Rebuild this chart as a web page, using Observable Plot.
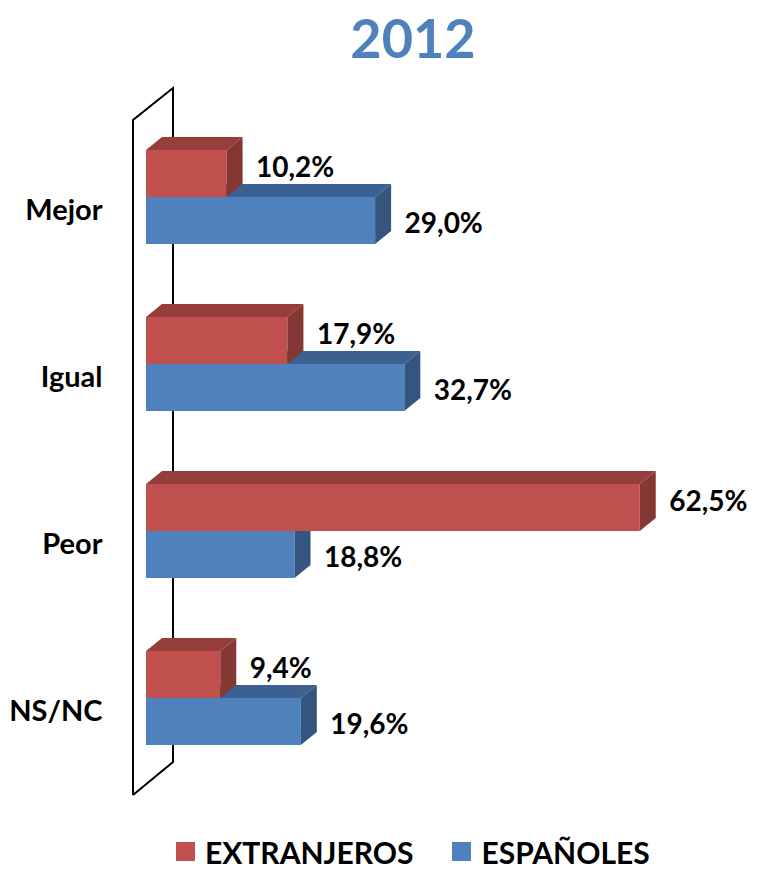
<!DOCTYPE html>
<html>
<head>
<meta charset="utf-8">
<script src="https://cdn.jsdelivr.net/npm/d3@7"></script>
<script src="https://cdn.jsdelivr.net/npm/@observablehq/plot@0.6"></script>
<style>
  html, body { margin: 0; padding: 0; background: #fff; }
  body { width: 767px; height: 873px; overflow: hidden; font-family: Lato, "Open Sans", sans-serif; }
  #title { height: 75px; line-height: 75px; font-size: 54px; font-weight: bold; color: #4f81bd; text-align: center; padding-left: 59px; box-sizing: border-box; }
  #chart svg { display: block; }
  #legend { height: 43px; display: flex; align-items: center; padding-left: 176px; font-size: 30px; font-weight: bold; color: #000; }
  .sw { width: 19px; height: 19px; display: inline-block; margin-right: 10px; }
  .item { display: flex; align-items: center; margin-right: 39px; }
</style>
</head>
<body>
<div id="title">2012</div>
<div id="chart"></div>
<div id="legend"></div>
<script>
const categories = ["Mejor", "Igual", "Peor", "NS/NC"];
const extranjeros = [10.2, 17.9, 62.5, 9.4];
const espanoles = [29.0, 32.7, 18.8, 19.6];
const seriesNames = ["EXTRANJEROS", "ESPAÑOLES"];
const seriesColors = ["#c0504d", "#4f81bd"];
const topColors = ["#963e3b", "#3b6190"];
const sideColors = ["#853734", "#34557e"];

const data = categories.flatMap((c, i) => [
  {cat: c, series: "ESPAÑOLES", value: espanoles[i]},
  {cat: c, series: "EXTRANJEROS", value: extranjeros[i]}
]);
const fmt = v => v.toFixed(1).replace(".", ",") + "%";

const W = 767, H = 755, mT = 73, mB = 83, mL = 146;
const plot = Plot.plot({
  width: W, height: H,
  marginLeft: mL, marginRight: 68, marginTop: mT, marginBottom: mB,
  x: {domain: [0, 70], axis: null},
  y: {domain: seriesNames, padding: 0, axis: null},
  fy: {domain: categories, paddingInner: 0.4345, paddingOuter: 0, axis: null},
  color: {domain: seriesNames, range: seriesColors},
  style: {fontFamily: "Lato, 'Open Sans', sans-serif", fontWeight: "bold", color: "#000", background: "transparent"},
  marks: [
    Plot.barX(data, {fy: "cat", y: "series", x: "value", fill: "series"}),
    Plot.text(data.filter(d => d.series === "EXTRANJEROS"), {
      fy: "cat", y: "series", x: "value", text: d => fmt(d.value),
      textAnchor: "start", dx: 29, dy: -6, fontSize: 28, fontWeight: "bold", fill: "#000"
    }),
    Plot.text(data.filter(d => d.series === "ESPAÑOLES"), {
      fy: "cat", y: "series", x: "value", text: d => fmt(d.value),
      textAnchor: "start", dx: 29, dy: 3, fontSize: 28, fontWeight: "bold", fill: "#000"
    }),
    Plot.text(categories, {
      fy: d => d, text: d => d, frameAnchor: "left", textAnchor: "end",
      dx: -44, dy: 13, fontSize: 29, fontWeight: "bold", fill: "#000"
    })
  ]
});
const svg = plot.tagName.toLowerCase() === "svg" ? plot : plot.querySelector("svg");
document.getElementById("chart").appendChild(plot);

// 3D faces for bars
const DX = 16, DY = 13;
const ns = "http://www.w3.org/2000/svg";
const norm = c => d3.color(c).formatHex();
svg.querySelectorAll("rect").forEach(r => {
  const f = r.getAttribute("fill");
  if (!f) return;
  const idx = seriesColors.map(norm).indexOf(norm(f));
  if (idx < 0) return;
  const x = +r.getAttribute("x"), y = +r.getAttribute("y");
  const w = +r.getAttribute("width"), h = +r.getAttribute("height");
  const top = document.createElementNS(ns, "polygon");
  top.setAttribute("points", `${x},${y} ${x + DX},${y - DY} ${x + w + DX},${y - DY} ${x + w},${y}`);
  top.setAttribute("fill", topColors[idx]);
  const side = document.createElementNS(ns, "polygon");
  side.setAttribute("points", `${x + w},${y} ${x + w + DX},${y - DY} ${x + w + DX},${y + h - DY} ${x + w},${y + h}`);
  side.setAttribute("fill", sideColors[idx]);
  r.after(top, side);
});

// back wall
const x0 = plot.scale ? plot.scale("x").apply(0) : mL;
const xl = x0 - 13, xb = x0 + 27;
const yTop = mT - 28, yBottom = H - mB + 48;
const wall = document.createElementNS(ns, "path");
wall.setAttribute("d", `M${xl},${yBottom} L${xl},${yTop} L${xb},${yTop - 32} L${xb},${yBottom - 33} L${xl},${yBottom}`);
wall.setAttribute("fill", "none");
wall.setAttribute("stroke", "#000");
wall.setAttribute("stroke-width", "2");
svg.insertBefore(wall, svg.firstChild);

// legend
const legend = document.getElementById("legend");
seriesNames.forEach((s, i) => {
  const item = document.createElement("div");
  item.className = "item";
  const sw = document.createElement("span");
  sw.className = "sw";
  sw.style.background = seriesColors[i];
  const t = document.createElement("span");
  t.textContent = s;
  item.append(sw, t);
  legend.appendChild(item);
});
</script>
</body>
</html>
